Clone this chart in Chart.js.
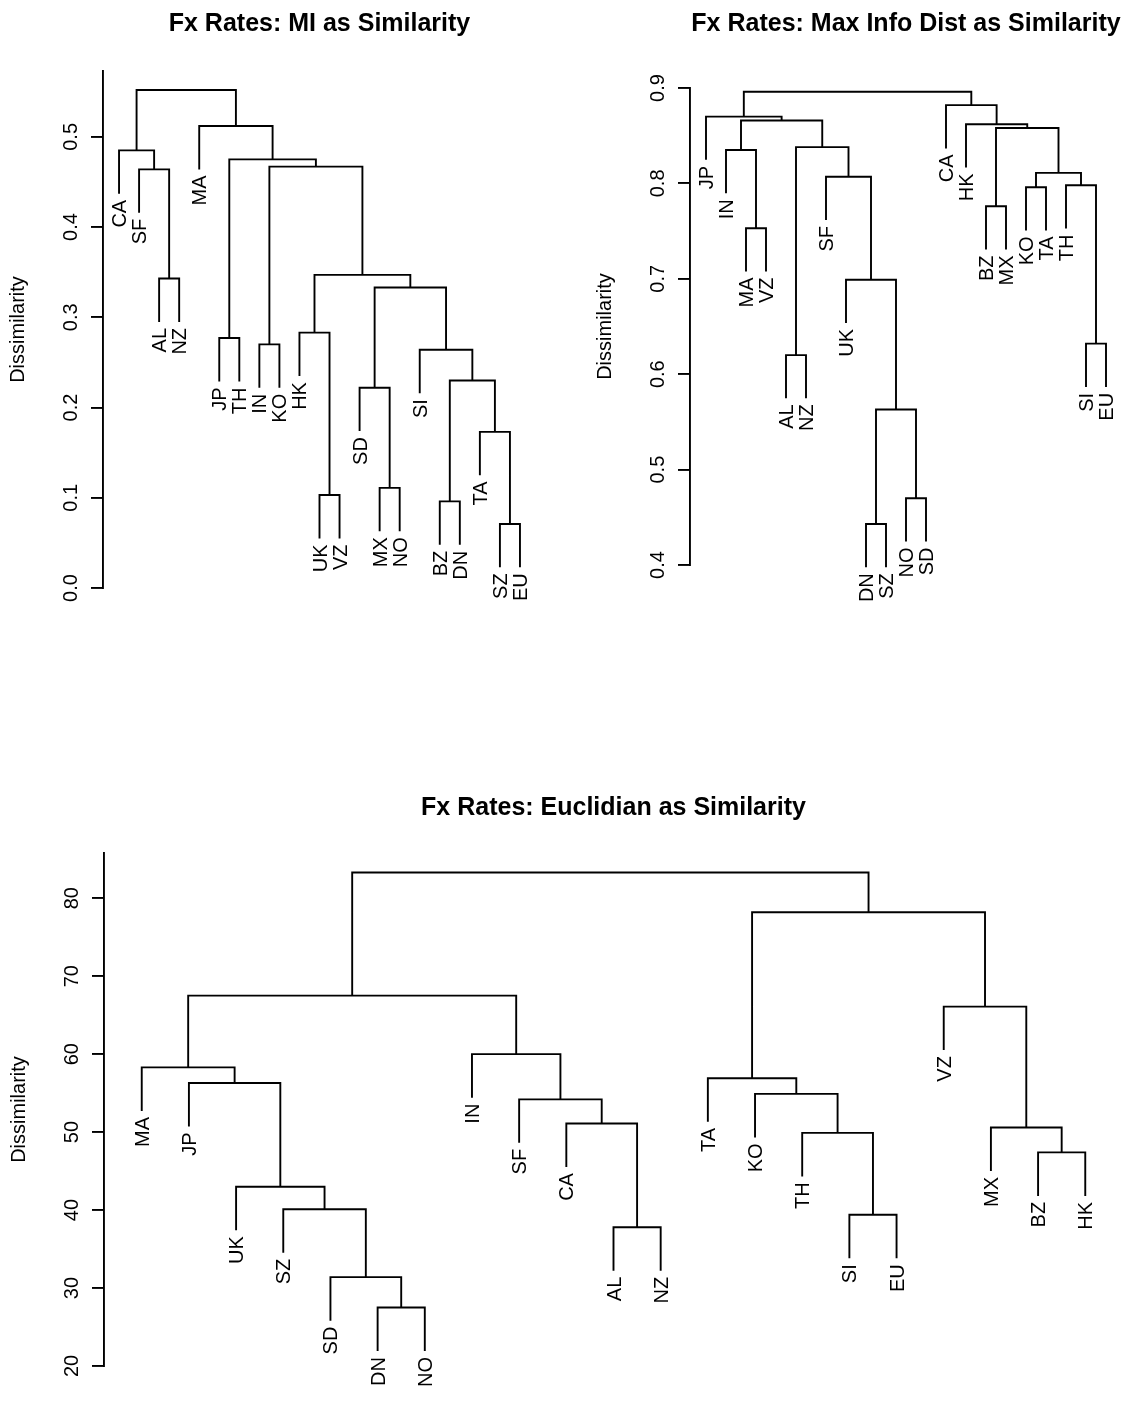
<!DOCTYPE html>
<html>
<head>
<meta charset="utf-8">
<script src="https://cdn.jsdelivr.net/npm/chart.js@4.4.1/dist/chart.umd.min.js"></script>
<style>
  html, body { margin: 0; padding: 0; background: #fff; }
  #page { position: relative; width: 1124px; height: 1401px; }
  canvas { position: absolute; }
</style>
</head>
<body>
<div id="page">
  <canvas id="miChart" width="562" height="700" style="left:0;top:0"></canvas>
  <canvas id="maxInfoChart" width="562" height="700" style="left:562px;top:0"></canvas>
  <canvas id="euclidChart" width="1124" height="701" style="left:0;top:700px"></canvas>
</div>
<script>
// MI as similarity: leaves in plot order, merges (leaf name or earlier merge index), merge heights
const miLabels = ['CA','SF','AL','NZ','MA','JP','TH','IN','KO','HK','UK','VZ','SD','MX','NO','SI','BZ','DN','TA','SZ','EU'];
const miMerges = [['SZ','EU'],['BZ','DN'],['UK','VZ'],['MX','NO'],['TA',0],['SD',3],[1,4],['SI',6],['IN','KO'],['JP','TH'],
                  ['HK',2],[5,7],['AL','NZ'],[10,11],['SF',12],[8,13],[9,15],['CA',14],['MA',16],[17,18]];
const miHeights = [0.071,0.096,0.103,0.111,0.173,0.222,0.230,0.264,0.270,0.277,
                   0.283,0.333,0.343,0.347,0.464,0.467,0.475,0.485,0.512,0.552];
const miTicks = [0, 0.1, 0.2, 0.3, 0.4, 0.5];
const miTickLabels = ['0.0','0.1','0.2','0.3','0.4','0.5'];

// Max info dist as similarity
const mxLabels = ['JP','IN','MA','VZ','AL','NZ','SF','UK','DN','SZ','NO','SD','CA','HK','BZ','MX','KO','TA','TH','SI','EU'];
const mxMerges = [['DN','SZ'],['NO','SD'],[0,1],['AL','NZ'],['SI','EU'],['UK',2],['MA','VZ'],['BZ','MX'],['KO','TA'],['TH',4],
                  ['SF',5],[8,9],['IN',6],[3,10],[7,11],['HK',14],[12,13],['JP',16],['CA',15],[17,18]];
const mxHeights = [0.443,0.470,0.563,0.620,0.632,0.699,0.753,0.776,0.796,0.798,
                   0.807,0.811,0.835,0.838,0.858,0.862,0.866,0.870,0.882,0.896];
const mxTicks = [0.4, 0.5, 0.6, 0.7, 0.8, 0.9];
const mxTickLabels = ['0.4','0.5','0.6','0.7','0.8','0.9'];

// Euclidian as similarity
const euLabels = ['MA','JP','UK','SZ','SD','DN','NO','IN','SF','CA','AL','NZ','TA','KO','TH','SI','EU','VZ','MX','BZ','HK'];
const euMerges = [['DN','NO'],['SD',0],['AL','NZ'],['SI','EU'],['SZ',1],['UK',4],['BZ','HK'],['TH',3],['MX',6],['CA',2],
                  ['SF',9],['KO',7],['JP',5],['TA',11],['MA',12],['IN',10],['VZ',8],[14,15],[13,16],[17,18]];
const euHeights = [27.5,31.4,37.8,39.4,40.1,43.0,47.4,49.9,50.6,51.1,
                   54.2,54.9,56.3,56.9,58.3,60.0,66.1,67.5,78.2,83.3];
const euTicks = [20, 30, 40, 50, 60, 70, 80];
const euTickLabels = ['20','30','40','50','60','70','80'];

const FONT = '"Liberation Sans", Arial, Helvetica, sans-serif';
const LINE = 1.9;

// turn the merge list into one U-shaped line per merge (R hclust style, hang = 0.1)
function buildTree(labels, merges, heights) {
  const hang = 0.1 * (Math.max(...heights) - Math.min(...heights));
  const nodeX = [];
  const leafBottom = {};
  const datasets = merges.map((pair, i) => {
    const h = heights[i];
    const ends = pair.map(ref => {
      if (typeof ref === 'string') {
        leafBottom[ref] = h - hang;
        return { x: labels.indexOf(ref) + 1, y: h - hang };
      }
      return { x: nodeX[ref], y: heights[ref] };
    });
    nodeX[i] = (ends[0].x + ends[1].x) / 2;
    return {
      data: [ends[0], { x: ends[0].x, y: h }, { x: ends[1].x, y: h }, ends[1]],
      showLine: true,
      borderColor: '#000',
      borderWidth: LINE,
      pointRadius: 0,
      pointHoverRadius: 0,
      fill: false,
      tension: 0,
      clip: false
    };
  });
  return { datasets, leafBottom };
}

// leaf names and y tick labels, both rotated like base R graphics
function textPlugin(labels, leafBottom, tickLabels) {
  return {
    id: 'dendroText',
    afterDraw(chart) {
      const { ctx, chartArea, scales: { x, y } } = chart;
      ctx.save();
      ctx.fillStyle = '#000';
      ctx.font = '20px ' + FONT;
      ctx.textBaseline = 'alphabetic';
      ctx.textAlign = 'right';
      labels.forEach((lab, i) => {
        ctx.save();
        ctx.translate(x.getPixelForValue(i + 1) + 7, y.getPixelForValue(leafBottom[lab]) + 6);
        ctx.rotate(-Math.PI / 2);
        ctx.fillText(lab, 0, 0);
        ctx.restore();
      });
      ctx.textAlign = 'center';
      y.ticks.forEach((t, i) => {
        ctx.save();
        ctx.translate(chartArea.left - 26, y.getPixelForValue(t.value));
        ctx.rotate(-Math.PI / 2);
        ctx.fillText(tickLabels[i], 0, 0);
        ctx.restore();
      });
      ctx.restore();
    }
  };
}

function makeDendrogram(id, cfg) {
  const tree = buildTree(cfg.labels, cfg.merges, cfg.heights);
  const n = cfg.labels.length;
  return new Chart(document.getElementById(id), {
    type: 'scatter',
    data: { datasets: tree.datasets },
    options: {
      responsive: false,
      animation: false,
      devicePixelRatio: 1,
      events: [],
      layout: { autoPadding: false, padding: cfg.padding },
      plugins: {
        legend: { display: false },
        tooltip: { enabled: false },
        title: {
          display: true,
          text: cfg.title,
          fullSize: false,
          color: '#000',
          font: { family: FONT, size: 25, weight: 'bold' },
          padding: cfg.titlePadding
        }
      },
      scales: {
        x: {
          type: 'linear',
          display: false,
          min: 1 - 0.04 * (n - 1),
          max: n + 0.04 * (n - 1)
        },
        y: {
          type: 'linear',
          position: 'left',
          min: cfg.yMin,
          max: cfg.yMax,
          afterBuildTicks: s => { s.ticks = cfg.ticks.map(v => ({ value: v })); },
          afterFit: s => { s.width = 100; },
          ticks: { display: false },
          grid: { display: true, drawOnChartArea: false, drawTicks: true, tickLength: 12, color: '#000', lineWidth: LINE },
          border: { display: true, color: '#000', width: LINE },
          title: {
            display: true,
            text: 'Dissimilarity',
            color: '#000',
            font: { family: FONT, size: 20 },
            padding: { top: 3, bottom: 0 }
          }
        }
      }
    },
    plugins: [textPlugin(cfg.labels, tree.leafBottom, cfg.tickLabels)]
  });
}

makeDendrogram('miChart', {
  title: 'Fx Rates: MI as Similarity',
  labels: miLabels, merges: miMerges, heights: miHeights,
  ticks: miTicks, tickLabels: miTickLabels,
  yMin: 0, yMax: 0.573,
  padding: { left: 3, right: 26, top: 0, bottom: 112 },
  titlePadding: { top: 9, bottom: 32 }
});

makeDendrogram('maxInfoChart', {
  title: 'Fx Rates: Max Info Dist as Similarity',
  labels: mxLabels, merges: mxMerges, heights: mxHeights,
  ticks: mxTicks, tickLabels: mxTickLabels,
  yMin: 0.4, yMax: 0.9,
  padding: { left: 28, right: 2, top: 0, bottom: 135 },
  titlePadding: { top: 9, bottom: 49 }
});

makeDendrogram('euclidChart', {
  title: 'Fx Rates: Euclidian as Similarity',
  labels: euLabels, merges: euMerges, heights: euHeights,
  ticks: euTicks, tickLabels: euTickLabels,
  yMin: 20, yMax: 85.8,
  padding: { left: 4, right: 1, top: 84, bottom: 35 },
  titlePadding: { top: 9, bottom: 30 }
});
</script>
</body>
</html>
